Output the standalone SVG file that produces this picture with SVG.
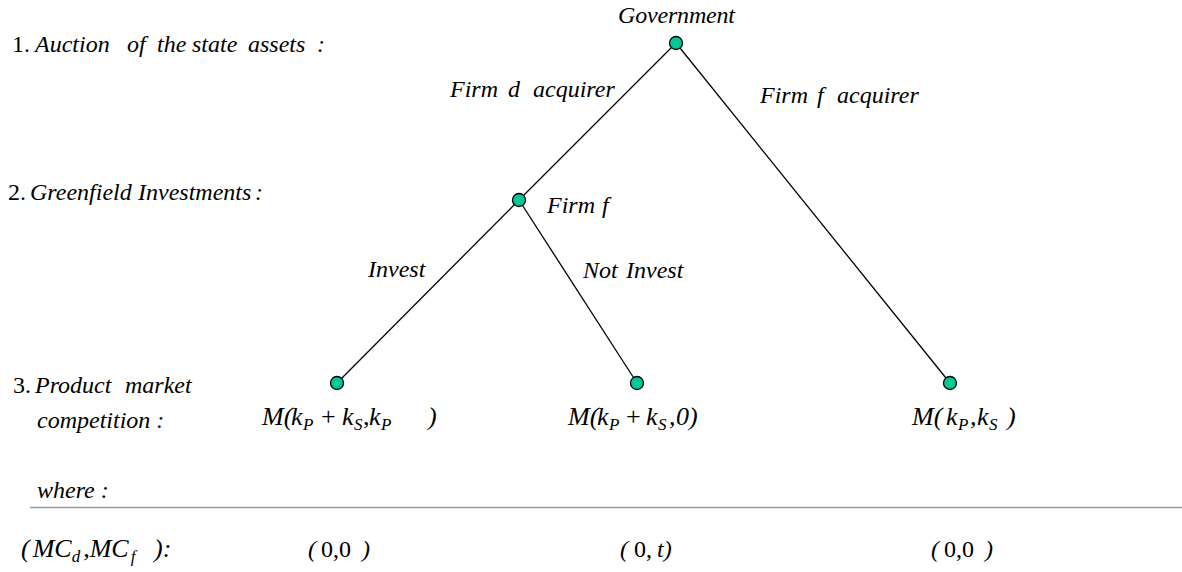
<svg xmlns="http://www.w3.org/2000/svg" width="1182" height="572" viewBox="0 0 1182 572" font-family="'Liberation Serif','Times New Roman',serif">
<style>
text{font-family:"Liberation Serif","Times New Roman",serif;fill:#000}
.i{font-style:italic}
.lbl{font-size:24px;font-style:italic}
.hd{font-size:24px}
.m{font-size:26px;font-style:italic}
.sub{font-size:17px;font-style:italic}
.up{font-style:normal}
.edge{stroke:#000;stroke-width:1.3;fill:none}
.node{fill:#00C897;stroke:#000;stroke-width:1.3}
</style>
<rect width="1182" height="572" fill="#fff"/>
<g id="stages">
<text class="hd" y="52"><tspan x="12">1.</tspan><tspan class="i" x="35">Auction</tspan><tspan class="i" x="127">of</tspan><tspan class="i" x="157">the</tspan><tspan class="i" x="192">state</tspan><tspan class="i" x="248">assets</tspan><tspan class="i" x="317">:</tspan></text>
<text class="hd" y="200"><tspan x="8">2.</tspan><tspan class="i" x="30">Greenfield</tspan><tspan class="i" x="138">Investments</tspan><tspan class="i" x="255">:</tspan></text>
<text class="hd" y="393"><tspan x="13">3.</tspan><tspan class="i" x="35">Product</tspan><tspan class="i" x="125">market</tspan></text>
<text class="lbl" x="37" y="428">competition :</text>
</g>
<g id="connectors">
<line class="edge" x1="676" y1="43" x2="519" y2="200"/>
<line class="edge" x1="676" y1="43" x2="950" y2="383"/>
<line class="edge" x1="519" y1="200" x2="337" y2="383"/>
<line class="edge" x1="519" y1="200" x2="637" y2="383"/>
</g>
<g id="edge-labels">
<text class="lbl" y="97"><tspan x="450">Firm</tspan><tspan x="508">d</tspan><tspan x="533">acquirer</tspan></text>
<text class="lbl" y="103"><tspan x="760">Firm</tspan><tspan x="817">f</tspan><tspan x="837">acquirer</tspan></text>
<text class="lbl" x="368" y="277">Invest</text>
<text class="lbl" y="278"><tspan x="583">Not</tspan><tspan x="626">Invest</tspan></text>
</g>
<g id="node-government">
<circle class="node" cx="676" cy="43" r="6.5"/>
<text class="lbl" x="618" y="23" textLength="117" lengthAdjust="spacing">Government</text>
</g>
<g id="node-firm-f">
<circle class="node" cx="519" cy="200" r="6.5"/>
<text class="lbl" y="213"><tspan x="547">Firm</tspan><tspan x="602">f</tspan></text>
</g>
<g id="leaf-1">
<circle class="node" cx="337" cy="383" r="6.5"/>
<text class="m" y="425"><tspan x="262">M(</tspan><tspan x="291">k</tspan><tspan class="sub" x="303" dy="5">P</tspan><tspan class="up" x="321" dy="-5">+</tspan><tspan x="342">k</tspan><tspan class="sub" x="354" dy="5">S</tspan><tspan x="363" dy="-5">,</tspan><tspan x="369">k</tspan><tspan class="sub" x="381" dy="5">P</tspan><tspan x="428" dy="-5">)</tspan></text>
</g>
<g id="leaf-2">
<circle class="node" cx="637" cy="383" r="6.5"/>
<text class="m" y="425"><tspan x="568">M(</tspan><tspan x="597">k</tspan><tspan class="sub" x="609" dy="5">P</tspan><tspan class="up" x="626" dy="-5">+</tspan><tspan x="646">k</tspan><tspan class="sub" x="658" dy="5">S</tspan><tspan x="669" dy="-5">,</tspan><tspan x="676">0)</tspan></text>
</g>
<g id="leaf-3">
<circle class="node" cx="950" cy="383" r="6.5"/>
<text class="m" y="425"><tspan x="912">M(</tspan><tspan x="946">k</tspan><tspan class="sub" x="958" dy="5">P</tspan><tspan x="970" dy="-5">,</tspan><tspan x="977">k</tspan><tspan class="sub" x="989" dy="5">S</tspan><tspan x="1007" dy="-5">)</tspan></text>
</g>
<g id="costs">
<text class="lbl" x="37" y="498" font-size="22">where :</text>
<line x1="30" y1="507.5" x2="1182" y2="507.5" stroke="#999" stroke-width="1.5"/>
<text class="m" y="557" font-size="21"><tspan x="21">(</tspan><tspan dx="3">MC</tspan><tspan class="sub" font-size="15" dy="5">d</tspan><tspan dx="3" dy="-5">,</tspan><tspan>MC</tspan><tspan class="sub" font-size="15" dx="2" dy="5">f</tspan><tspan x="154" dy="-5">):</tspan></text>
<text y="557" font-size="24"><tspan class="i" x="308">(</tspan><tspan x="321">0,0</tspan><tspan class="i" x="362">)</tspan></text>
<text y="557" font-size="24"><tspan class="i" x="620">(</tspan><tspan x="634">0,</tspan><tspan class="i" x="657">t)</tspan></text>
<text y="557" font-size="24"><tspan class="i" x="931">(</tspan><tspan x="944">0,0</tspan><tspan class="i" x="985">)</tspan></text>
</g>
</svg>
